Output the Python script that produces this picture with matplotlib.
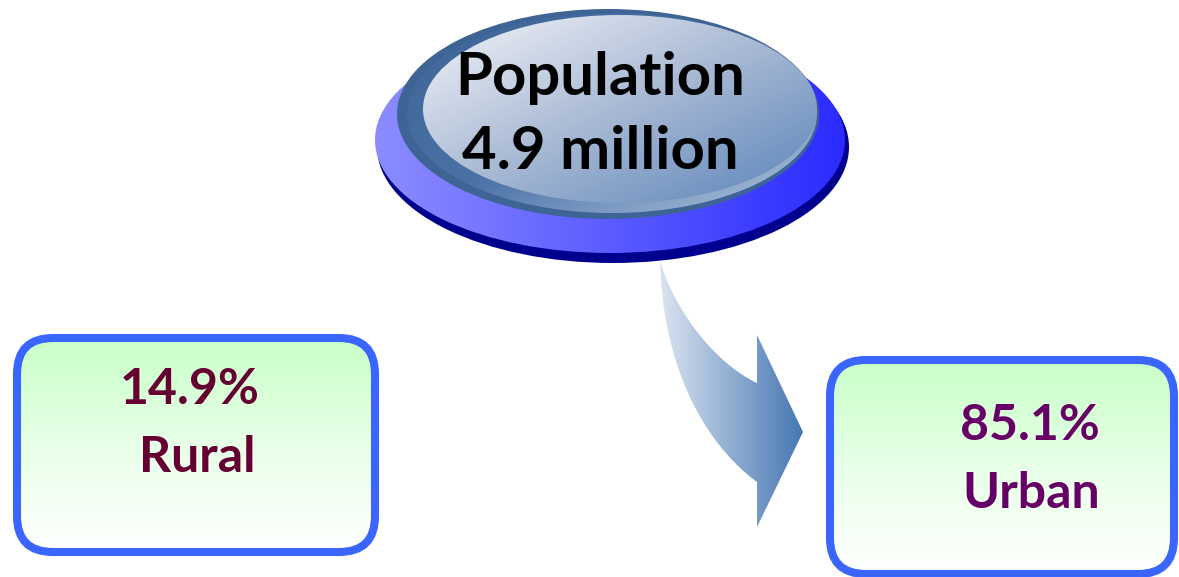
import numpy as np
import matplotlib.pyplot as plt
from matplotlib.patches import Ellipse, FancyBboxPatch, PathPatch
from matplotlib.path import Path
from matplotlib.colors import LinearSegmentedColormap

W, H = 1179, 577

# contenu du schéma
total_lines = ['Population', '4.9 million']
shares = ['14.9%', '85.1%']
areas = ['Rural', 'Urban']
text_colors = ['#660033', '#660066']

FONT = ['Lato', 'DejaVu Sans']

fig = plt.figure(figsize=(W / 100, H / 100), dpi=100)
ax = fig.add_axes([0, 0, 1, 1])


def fill_gradient(patch, colors, box, mode='h'):
    # remplit un patch avec un dégradé (imshow découpé par le patch)
    cmap = LinearSegmentedColormap.from_list('g', colors)
    t = np.linspace(0, 1, 200)
    if mode == 'h':
        arr = np.tile(t, (2, 1))
    elif mode == 'v':
        arr = np.tile(t[:, None], (1, 2))
    else:
        X, Y = np.meshgrid(t, t)
        arr = (X + Y) / 2
    x0, x1, y0, y1 = box
    im = ax.imshow(arr, cmap=cmap, extent=(x0, x1, y1, y0), aspect='auto',
                   interpolation='bicubic', zorder=patch.get_zorder())
    im.set_clip_path(patch)


# disque bleu de base
shadow = Ellipse((613, 147), 472, 232, facecolor='#00008f', edgecolor='none', zorder=1)
ax.add_patch(shadow)
disk = Ellipse((610, 140), 470, 226, facecolor='none', edgecolor='none', zorder=2)
ax.add_patch(disk)
fill_gradient(disk, ['#8c8cff', '#2b2bff'], (375, 845, 27, 253), 'h')

# bouton gris-bleu
rim = Ellipse((608, 114), 422, 210, facecolor='#3e6496', edgecolor='none', zorder=3)
ax.add_patch(rim)
rim2 = Ellipse((612, 113), 410, 200, facecolor='none', edgecolor='none', zorder=4)
ax.add_patch(rim2)
fill_gradient(rim2, ['#3e6496', '#4a72a6', '#b5c8e0'], (407, 817, 13, 213), 'd')
inner = Ellipse((620, 109), 394, 188, facecolor='none', edgecolor='none', zorder=5)
ax.add_patch(inner)
fill_gradient(inner, ['#f4f5f9', '#a8b9d4', '#5a84b9'], (423, 817, 15, 203), 'd')

ax.text(600, 78, total_lines[0], ha='center', va='center', fontsize=43,
        fontweight='bold', family=FONT, color='black', zorder=6)
ax.text(600, 152, total_lines[1], ha='center', va='center', fontsize=43,
        fontweight='bold', family=FONT, color='black', zorder=6)

# flèche courbe
verts = [(660, 260), (662, 360), (700, 440), (757, 482),
         (757, 527), (803, 432), (757, 335), (757, 383),
         (712, 362), (672, 305), (660, 260), (660, 260)]
codes = [Path.MOVETO, Path.CURVE4, Path.CURVE4, Path.CURVE4,
         Path.LINETO, Path.LINETO, Path.LINETO, Path.LINETO,
         Path.CURVE4, Path.CURVE4, Path.CURVE4, Path.CLOSEPOLY]
arrow = PathPatch(Path(verts, codes), facecolor='none', edgecolor='none', zorder=2)
ax.add_patch(arrow)
fill_gradient(arrow, ['#dbe4f0', '#4677b3'], (660, 803, 260, 527), 'h')

# boîtes arrondies
boxes = [(17, 338, 358, 214), (830, 360, 344, 214)]
share_pos = [(190, 390), (1030, 426)]
area_pos = [(197, 457), (1031, 493)]
for i in range(len(boxes)):
    x, y, w, h = boxes[i]
    bg = FancyBboxPatch((x, y), w, h, boxstyle='round,pad=0,rounding_size=36',
                        facecolor='none', edgecolor='none', zorder=2)
    ax.add_patch(bg)
    fill_gradient(bg, ['#c8ffc8', '#e8ffe8', '#ffffff'], (x, x + w, y, y + h), 'v')
    border = FancyBboxPatch((x, y), w, h, boxstyle='round,pad=0,rounding_size=36',
                            facecolor='none', edgecolor='#3a66ff', linewidth=5.8, zorder=3)
    ax.add_patch(border)
    ax.text(share_pos[i][0], share_pos[i][1], shares[i], ha='center', va='center',
            fontsize=36, fontweight='bold', family=FONT, color=text_colors[i], zorder=4)
    ax.text(area_pos[i][0], area_pos[i][1], areas[i], ha='center', va='center',
            fontsize=36, fontweight='bold', family=FONT, color=text_colors[i], zorder=4)

ax.set_xlim(0, W)
ax.set_ylim(H, 0)
ax.axis('off')

fig.savefig('out.png', dpi=100)
